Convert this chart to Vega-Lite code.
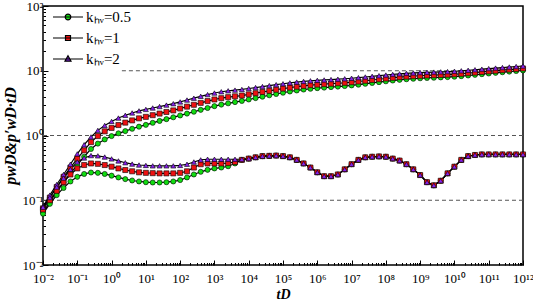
{
"$schema": "https://vega.github.io/schema/vega-lite/v6.json",
"width": 480, "height": 259,
"autosize": {"type": "none"},
"padding": {"left": 43, "top": 6, "right": 10, "bottom": 35},
"background": "white",
"config": {"view": {"stroke": "black", "strokeWidth": 1.5}, "font": "Liberation Serif"},
"datasets": {
"refs": [{"y": 10, "x1": 2, "x2": 1e12}, {"y": 1, "x1": 1e-2, "x2": 1e12}, {"y": 0.1, "x1": 1e-2, "x2": 1e12}],
"curves": [
{"t":1e-2,"k":"0.5","p":0.065,"d":0.062},{"t":1.585e-2,"k":"0.5","p":0.094,"d":0.088},{"t":2.512e-2,"k":"0.5","p":0.135,"d":0.12},{"t":3.981e-2,"k":"0.5","p":0.19,"d":0.155},{"t":6.31e-2,"k":"0.5","p":0.26,"d":0.195},
{"t":0.1,"k":"0.5","p":0.35,"d":0.23},{"t":0.1585,"k":"0.5","p":0.47,"d":0.255},{"t":0.2512,"k":"0.5","p":0.62,"d":0.268},{"t":0.3981,"k":"0.5","p":0.75,"d":0.265},{"t":0.631,"k":"0.5","p":0.87,"d":0.255},
{"t":1,"k":"0.5","p":0.98,"d":0.24},{"t":1.585,"k":"0.5","p":1.08,"d":0.225},{"t":2.512,"k":"0.5","p":1.17,"d":0.212},{"t":3.981,"k":"0.5","p":1.27,"d":0.202},{"t":6.31,"k":"0.5","p":1.37,"d":0.195},
{"t":10,"k":"0.5","p":1.46,"d":0.19},{"t":15.85,"k":"0.5","p":1.57,"d":0.188},{"t":25.12,"k":"0.5","p":1.68,"d":0.188},{"t":39.81,"k":"0.5","p":1.79,"d":0.19},{"t":63.1,"k":"0.5","p":1.91,"d":0.195},
{"t":100,"k":"0.5","p":2.04,"d":0.205},{"t":158.5,"k":"0.5","p":2.18,"d":0.225},{"t":251.2,"k":"0.5","p":2.33,"d":0.25},{"t":398.1,"k":"0.5","p":2.49,"d":0.275},{"t":631,"k":"0.5","p":2.66,"d":0.295},
{"t":1e3,"k":"0.5","p":2.84,"d":0.31},{"t":1.585e3,"k":"0.5","p":3.0,"d":0.32},{"t":2.512e3,"k":"0.5","p":3.14,"d":0.335},{"t":3.981e3,"k":"0.5","p":3.28,"d":0.37},{"t":6.31e3,"k":"0.5","p":3.42,"d":0.42},
{"t":1e4,"k":"0.5","p":3.60,"d":0.44},{"t":1.585e4,"k":"0.5","p":3.78,"d":0.46},{"t":2.512e4,"k":"0.5","p":3.98,"d":0.48},{"t":3.981e4,"k":"0.5","p":4.18,"d":0.485},{"t":6.31e4,"k":"0.5","p":4.38,"d":0.49},
{"t":1e5,"k":"0.5","p":4.58,"d":0.48},{"t":1.585e5,"k":"0.5","p":4.78,"d":0.46},{"t":2.512e5,"k":"0.5","p":4.96,"d":0.42},{"t":3.981e5,"k":"0.5","p":5.12,"d":0.37},{"t":6.31e5,"k":"0.5","p":5.27,"d":0.32},
{"t":1e6,"k":"0.5","p":5.39,"d":0.27},{"t":1.585e6,"k":"0.5","p":5.49,"d":0.235},{"t":2.512e6,"k":"0.5","p":5.59,"d":0.235},{"t":3.981e6,"k":"0.5","p":5.69,"d":0.25},{"t":6.31e6,"k":"0.5","p":5.80,"d":0.30},
{"t":1e7,"k":"0.5","p":5.94,"d":0.36},{"t":1.585e7,"k":"0.5","p":6.10,"d":0.42},{"t":2.512e7,"k":"0.5","p":6.29,"d":0.46},{"t":3.981e7,"k":"0.5","p":6.48,"d":0.47},{"t":6.31e7,"k":"0.5","p":6.67,"d":0.475},
{"t":1e8,"k":"0.5","p":6.87,"d":0.47},{"t":1.585e8,"k":"0.5","p":7.06,"d":0.44},{"t":2.512e8,"k":"0.5","p":7.24,"d":0.41},{"t":3.981e8,"k":"0.5","p":7.40,"d":0.36},{"t":6.31e8,"k":"0.5","p":7.53,"d":0.30},
{"t":1e9,"k":"0.5","p":7.65,"d":0.245},{"t":1.585e9,"k":"0.5","p":7.74,"d":0.19},{"t":2.512e9,"k":"0.5","p":7.81,"d":0.17},{"t":3.981e9,"k":"0.5","p":7.89,"d":0.20},{"t":6.31e9,"k":"0.5","p":7.98,"d":0.26},
{"t":1e10,"k":"0.5","p":8.10,"d":0.33},{"t":1.585e10,"k":"0.5","p":8.26,"d":0.42},{"t":2.512e10,"k":"0.5","p":8.45,"d":0.48},{"t":3.981e10,"k":"0.5","p":8.65,"d":0.50},{"t":6.31e10,"k":"0.5","p":8.86,"d":0.51},
{"t":1e11,"k":"0.5","p":9.07,"d":0.51},{"t":1.585e11,"k":"0.5","p":9.28,"d":0.51},{"t":2.512e11,"k":"0.5","p":9.49,"d":0.51},{"t":3.981e11,"k":"0.5","p":9.70,"d":0.51},{"t":6.31e11,"k":"0.5","p":9.91,"d":0.51},
{"t":1e12,"k":"0.5","p":10.12,"d":0.51},

{"t":1e-2,"k":"1","p":0.075,"d":0.072},{"t":1.585e-2,"k":"1","p":0.11,"d":0.1},{"t":2.512e-2,"k":"1","p":0.16,"d":0.14},{"t":3.981e-2,"k":"1","p":0.23,"d":0.19},{"t":6.31e-2,"k":"1","p":0.32,"d":0.25},
{"t":0.1,"k":"1","p":0.44,"d":0.31},{"t":0.1585,"k":"1","p":0.59,"d":0.35},{"t":0.2512,"k":"1","p":0.79,"d":0.37},{"t":0.3981,"k":"1","p":0.98,"d":0.365},{"t":0.631,"k":"1","p":1.16,"d":0.35},
{"t":1,"k":"1","p":1.31,"d":0.33},{"t":1.585,"k":"1","p":1.45,"d":0.31},{"t":2.512,"k":"1","p":1.58,"d":0.293},{"t":3.981,"k":"1","p":1.71,"d":0.28},{"t":6.31,"k":"1","p":1.84,"d":0.27},
{"t":10,"k":"1","p":1.94,"d":0.265},{"t":15.85,"k":"1","p":2.06,"d":0.262},{"t":25.12,"k":"1","p":2.18,"d":0.26},{"t":39.81,"k":"1","p":2.31,"d":0.26},{"t":63.1,"k":"1","p":2.44,"d":0.26},
{"t":100,"k":"1","p":2.61,"d":0.265},{"t":158.5,"k":"1","p":2.79,"d":0.28},{"t":251.2,"k":"1","p":2.98,"d":0.32},{"t":398.1,"k":"1","p":3.19,"d":0.36},{"t":631,"k":"1","p":3.40,"d":0.37},
{"t":1e3,"k":"1","p":3.60,"d":0.37},{"t":1.585e3,"k":"1","p":3.77,"d":0.37},{"t":2.512e3,"k":"1","p":3.91,"d":0.375},{"t":3.981e3,"k":"1","p":4.03,"d":0.39},{"t":6.31e3,"k":"1","p":4.14,"d":0.42},
{"t":1e4,"k":"1","p":4.32,"d":0.44},{"t":1.585e4,"k":"1","p":4.50,"d":0.46},{"t":2.512e4,"k":"1","p":4.70,"d":0.48},{"t":3.981e4,"k":"1","p":4.90,"d":0.485},{"t":6.31e4,"k":"1","p":5.10,"d":0.49},
{"t":1e5,"k":"1","p":5.30,"d":0.48},{"t":1.585e5,"k":"1","p":5.50,"d":0.46},{"t":2.512e5,"k":"1","p":5.68,"d":0.42},{"t":3.981e5,"k":"1","p":5.84,"d":0.37},{"t":6.31e5,"k":"1","p":5.99,"d":0.32},
{"t":1e6,"k":"1","p":6.11,"d":0.27},{"t":1.585e6,"k":"1","p":6.21,"d":0.235},{"t":2.512e6,"k":"1","p":6.31,"d":0.235},{"t":3.981e6,"k":"1","p":6.41,"d":0.25},{"t":6.31e6,"k":"1","p":6.52,"d":0.30},
{"t":1e7,"k":"1","p":6.66,"d":0.36},{"t":1.585e7,"k":"1","p":6.82,"d":0.42},{"t":2.512e7,"k":"1","p":7.01,"d":0.46},{"t":3.981e7,"k":"1","p":7.20,"d":0.47},{"t":6.31e7,"k":"1","p":7.39,"d":0.475},
{"t":1e8,"k":"1","p":7.59,"d":0.47},{"t":1.585e8,"k":"1","p":7.78,"d":0.44},{"t":2.512e8,"k":"1","p":7.96,"d":0.41},{"t":3.981e8,"k":"1","p":8.12,"d":0.36},{"t":6.31e8,"k":"1","p":8.25,"d":0.30},
{"t":1e9,"k":"1","p":8.37,"d":0.245},{"t":1.585e9,"k":"1","p":8.46,"d":0.19},{"t":2.512e9,"k":"1","p":8.53,"d":0.17},{"t":3.981e9,"k":"1","p":8.61,"d":0.20},{"t":6.31e9,"k":"1","p":8.70,"d":0.26},
{"t":1e10,"k":"1","p":8.82,"d":0.33},{"t":1.585e10,"k":"1","p":8.98,"d":0.42},{"t":2.512e10,"k":"1","p":9.17,"d":0.48},{"t":3.981e10,"k":"1","p":9.37,"d":0.50},{"t":6.31e10,"k":"1","p":9.58,"d":0.51},
{"t":1e11,"k":"1","p":9.79,"d":0.51},{"t":1.585e11,"k":"1","p":10.00,"d":0.51},{"t":2.512e11,"k":"1","p":10.21,"d":0.51},{"t":3.981e11,"k":"1","p":10.42,"d":0.51},{"t":6.31e11,"k":"1","p":10.63,"d":0.51},
{"t":1e12,"k":"1","p":10.84,"d":0.51},

{"t":1e-2,"k":"2","p":0.08,"d":0.078},{"t":1.585e-2,"k":"2","p":0.12,"d":0.11},{"t":2.512e-2,"k":"2","p":0.175,"d":0.16},{"t":3.981e-2,"k":"2","p":0.25,"d":0.22},{"t":6.31e-2,"k":"2","p":0.36,"d":0.3},
{"t":0.1,"k":"2","p":0.52,"d":0.39},{"t":0.1585,"k":"2","p":0.72,"d":0.45},{"t":0.2512,"k":"2","p":0.95,"d":0.49},{"t":0.3981,"k":"2","p":1.2,"d":0.485},{"t":0.631,"k":"2","p":1.43,"d":0.465},
{"t":1,"k":"2","p":1.65,"d":0.435},{"t":1.585,"k":"2","p":1.86,"d":0.405},{"t":2.512,"k":"2","p":2.05,"d":0.38},{"t":3.981,"k":"2","p":2.23,"d":0.362},{"t":6.31,"k":"2","p":2.4,"d":0.35},
{"t":10,"k":"2","p":2.53,"d":0.345},{"t":15.85,"k":"2","p":2.66,"d":0.34},{"t":25.12,"k":"2","p":2.8,"d":0.34},{"t":39.81,"k":"2","p":2.95,"d":0.34},{"t":63.1,"k":"2","p":3.1,"d":0.34},
{"t":100,"k":"2","p":3.3,"d":0.345},{"t":158.5,"k":"2","p":3.53,"d":0.36},{"t":251.2,"k":"2","p":3.77,"d":0.39},{"t":398.1,"k":"2","p":4.03,"d":0.42},{"t":631,"k":"2","p":4.28,"d":0.43},
{"t":1e3,"k":"2","p":4.53,"d":0.43},{"t":1.585e3,"k":"2","p":4.74,"d":0.43},{"t":2.512e3,"k":"2","p":4.9,"d":0.43},{"t":3.981e3,"k":"2","p":5.02,"d":0.43},{"t":6.31e3,"k":"2","p":5.14,"d":0.43},
{"t":1e4,"k":"2","p":5.32,"d":0.44},{"t":1.585e4,"k":"2","p":5.50,"d":0.46},{"t":2.512e4,"k":"2","p":5.70,"d":0.48},{"t":3.981e4,"k":"2","p":5.90,"d":0.485},{"t":6.31e4,"k":"2","p":6.10,"d":0.49},
{"t":1e5,"k":"2","p":6.30,"d":0.48},{"t":1.585e5,"k":"2","p":6.50,"d":0.46},{"t":2.512e5,"k":"2","p":6.68,"d":0.42},{"t":3.981e5,"k":"2","p":6.84,"d":0.37},{"t":6.31e5,"k":"2","p":6.99,"d":0.32},
{"t":1e6,"k":"2","p":7.11,"d":0.27},{"t":1.585e6,"k":"2","p":7.21,"d":0.235},{"t":2.512e6,"k":"2","p":7.31,"d":0.235},{"t":3.981e6,"k":"2","p":7.41,"d":0.25},{"t":6.31e6,"k":"2","p":7.52,"d":0.30},
{"t":1e7,"k":"2","p":7.66,"d":0.36},{"t":1.585e7,"k":"2","p":7.82,"d":0.42},{"t":2.512e7,"k":"2","p":8.01,"d":0.46},{"t":3.981e7,"k":"2","p":8.20,"d":0.47},{"t":6.31e7,"k":"2","p":8.39,"d":0.475},
{"t":1e8,"k":"2","p":8.59,"d":0.47},{"t":1.585e8,"k":"2","p":8.78,"d":0.44},{"t":2.512e8,"k":"2","p":8.96,"d":0.41},{"t":3.981e8,"k":"2","p":9.12,"d":0.36},{"t":6.31e8,"k":"2","p":9.25,"d":0.30},
{"t":1e9,"k":"2","p":9.37,"d":0.245},{"t":1.585e9,"k":"2","p":9.46,"d":0.19},{"t":2.512e9,"k":"2","p":9.53,"d":0.17},{"t":3.981e9,"k":"2","p":9.61,"d":0.20},{"t":6.31e9,"k":"2","p":9.70,"d":0.26},
{"t":1e10,"k":"2","p":9.82,"d":0.33},{"t":1.585e10,"k":"2","p":9.98,"d":0.42},{"t":2.512e10,"k":"2","p":10.17,"d":0.48},{"t":3.981e10,"k":"2","p":10.37,"d":0.50},{"t":6.31e10,"k":"2","p":10.58,"d":0.51},
{"t":1e11,"k":"2","p":10.79,"d":0.51},{"t":1.585e11,"k":"2","p":11.00,"d":0.51},{"t":2.512e11,"k":"2","p":11.21,"d":0.51},{"t":3.981e11,"k":"2","p":11.42,"d":0.51},{"t":6.31e11,"k":"2","p":11.63,"d":0.51},
{"t":1e12,"k":"2","p":11.84,"d":0.51}
]
},
"resolve": {"scale": {"shape": "independent", "color": "independent", "fill": "independent", "stroke": "independent"}},
"layer": [
{
"data": {"name": "refs"},
"mark": {"type": "rule", "strokeDash": [4, 3], "color": "#555555", "strokeWidth": 1},
"encoding": {
"x": {"field": "x1", "type": "quantitative",
"scale": {"type": "log", "domain": [1e-2, 1e12], "nice": false},
"axis": {"title": "tD", "titleFont": "Liberation Serif", "titleFontStyle": "italic", "titleFontWeight": "bold", "titleFontSize": 14, "titlePadding": 0,
"grid": false, "domain": false, "tickColor": "black", "labelColor": "black", "labelFont": "Liberation Serif", "labelFontSize": 13, "labelPadding": 12,
"values": [1e-2,2e-2,3e-2,4e-2,5e-2,6e-2,7e-2,8e-2,9e-2,1e-1,2e-1,3e-1,4e-1,5e-1,6e-1,7e-1,8e-1,9e-1,1,2,3,4,5,6,7,8,9,10,20,30,40,50,60,70,80,90,100,200,300,400,500,600,700,800,900,1e3,2e3,3e3,4e3,5e3,6e3,7e3,8e3,9e3,1e4,2e4,3e4,4e4,5e4,6e4,7e4,8e4,9e4,1e5,2e5,3e5,4e5,5e5,6e5,7e5,8e5,9e5,1e6,2e6,3e6,4e6,5e6,6e6,7e6,8e6,9e6,1e7,2e7,3e7,4e7,5e7,6e7,7e7,8e7,9e7,1e8,2e8,3e8,4e8,5e8,6e8,7e8,8e8,9e8,1e9,2e9,3e9,4e9,5e9,6e9,7e9,8e9,9e9,1e10,2e10,3e10,4e10,5e10,6e10,7e10,8e10,9e10,1e11,2e11,3e11,4e11,5e11,6e11,7e11,8e11,9e11,1e12],
"labelExpr": "abs(log(datum.value)/LN10 - round(log(datum.value)/LN10)) < 0.001 ? ['10⁻²','10⁻¹','10⁰','10¹','10²','10³','10⁴','10⁵','10⁶','10⁷','10⁸','10⁹','10¹⁰','10¹¹','10¹²'][round(log(datum.value)/LN10)+2] : ''",
"tickSize": {"condition": {"test": "abs(log(datum.value)/LN10 - round(log(datum.value)/LN10)) < 0.001", "value": -5}, "value": -2.5},
"labelFlush": false, "labelOverlap": false}},
"x2": {"field": "x2"},
"y": {"field": "y", "type": "quantitative",
"scale": {"type": "log", "domain": [1e-2, 100], "nice": false},
"axis": {"title": "pwD&p′wD·tD", "titleFont": "Liberation Serif", "titleFontStyle": "italic", "titleFontWeight": "bold", "titleFontSize": 16, "titlePadding": 4,
"grid": false, "domain": false, "tickColor": "black", "labelColor": "black", "labelFont": "Liberation Serif", "labelFontSize": 13, "labelPadding": 5,
"values": [1e-2,2e-2,3e-2,4e-2,5e-2,6e-2,7e-2,8e-2,9e-2,1e-1,2e-1,3e-1,4e-1,5e-1,6e-1,7e-1,8e-1,9e-1,1,2,3,4,5,6,7,8,9,10,20,30,40,50,60,70,80,90,100],
"labelExpr": "abs(log(datum.value)/LN10 - round(log(datum.value)/LN10)) < 0.001 ? ['10⁻²','10⁻¹','10⁰','10¹','10²'][round(log(datum.value)/LN10)+2] : ''",
"tickSize": {"condition": {"test": "abs(log(datum.value)/LN10 - round(log(datum.value)/LN10)) < 0.001", "value": -5}, "value": -2.5},
"labelOverlap": false}}
}
},
{
"data": {"name": "curves"},
"transform": [{"fold": ["p", "d"], "as": ["kind", "v"]}],
"mark": {"type": "line", "color": "black", "strokeWidth": 1.2},
"encoding": {
"x": {"field": "t", "type": "quantitative"},
"y": {"field": "v", "type": "quantitative"},
"detail": [{"field": "k"}, {"field": "kind"}]
}
},
{
"data": {"name": "curves"},
"transform": [{"fold": ["p", "d"], "as": ["kind", "v"]}],
"mark": {"type": "point", "filled": true, "stroke": "black", "strokeWidth": 0.6, "size": 26, "opacity": 1},
"encoding": {
"x": {"field": "t", "type": "quantitative"},
"y": {"field": "v", "type": "quantitative"},
"color": {"field": "k", "type": "nominal",
"scale": {"domain": ["0.5", "1", "2"], "range": ["#11dd11", "#ee1111", "#8822ee"]}, "legend": null},
"shape": {"field": "k", "type": "nominal",
"scale": {"domain": ["0.5", "1", "2"], "range": ["circle", "square", "triangle-up"]}, "legend": null}
}
},
{
"data": {"name": "curves"},
"transform": [{"filter": "datum.t < 0"}],
"mark": {"type": "point", "strokeWidth": 1.2, "opacity": 1},
"encoding": {
"x": {"field": "t", "type": "quantitative"},
"y": {"field": "p", "type": "quantitative"},
"fill": {"field": "k", "type": "nominal",
"scale": {"domain": ["0.5", "1", "2"], "range": ["#11dd11", "#ee1111", "#8822ee"]},
"legend": {"orient": "none", "legendX": 14, "legendY": 0, "title": null, "padding": 0,
"labelFont": "Liberation Serif", "labelFontSize": 15, "labelColor": "black", "labelOffset": 7,
"symbolSize": 400, "rowPadding": 2, "symbolStrokeWidth": 1.2, "symbolOpacity": 1,
"labelExpr": "'kₕᵥ=' + datum.label"}},
"stroke": {"field": "k", "type": "nominal",
"scale": {"domain": ["0.5", "1", "2"], "range": ["#000000", "#000000", "#000000"]},
"legend": {"orient": "none", "legendX": 14, "legendY": 0, "title": null, "padding": 0,
"labelFont": "Liberation Serif", "labelFontSize": 15, "labelColor": "black", "labelOffset": 7,
"symbolSize": 400, "rowPadding": 2, "symbolStrokeWidth": 1.2, "symbolOpacity": 1,
"labelExpr": "'kₕᵥ=' + datum.label"}},
"shape": {"field": "k", "type": "nominal",
"scale": {"domain": ["0.5", "1", "2"], "range": ["M-1.5,0H1.5M-0.28,0A0.28,0.28 0 1,1 0.28,0A0.28,0.28 0 1,1 -0.28,0Z", "M-1.5,0H1.5M-0.25,-0.25H0.25V0.25H-0.25Z", "M-1.5,0H1.5M0,-0.32L0.3,0.22H-0.3Z"]},
"legend": {"orient": "none", "legendX": 14, "legendY": 0, "title": null, "padding": 0,
"labelFont": "Liberation Serif", "labelFontSize": 15, "labelColor": "black", "labelOffset": 7,
"symbolSize": 400, "rowPadding": 2, "symbolStrokeWidth": 1.2, "symbolOpacity": 1,
"labelExpr": "'kₕᵥ=' + datum.label"}}
}
}
]
}
